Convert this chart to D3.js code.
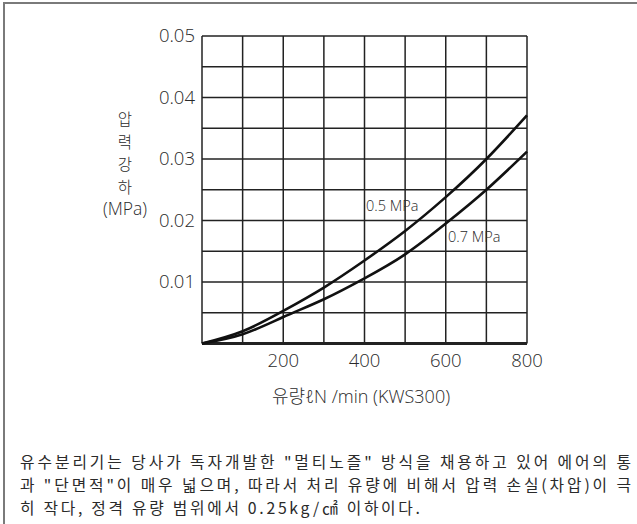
<!DOCTYPE html>
<html>
<head>
<meta charset="utf-8">
<script src="https://cdn.jsdelivr.net/npm/d3@7"></script>
<style>
    body { margin: 0; background: #fff; }
    svg text { font-family: "Open Sans", "Noto Sans", "Noto Sans CJK KR", sans-serif; font-weight: 300; fill: #2a2a2a; }
</style>
</head>
<body>
<svg id="chart" width="637" height="524"></svg>
<script>
// flow (l/min) and pressure drop (MPa)
var flow = [0, 100, 200, 300, 400, 500, 600, 700, 800];
var drop05 = [0, 0.0020, 0.0053, 0.0091, 0.0135, 0.0183, 0.0238, 0.0300, 0.0371];
var drop07 = [0, 0.0015, 0.0043, 0.0072, 0.0106, 0.0145, 0.0195, 0.0250, 0.0312];
var seriesNames = ["0.5 MPa", "0.7 MPa"];
var xTickLabels = [200, 400, 600, 800];
var yTickLabels = [0.01, 0.02, 0.03, 0.04, 0.05];
var yLabelChars = ["압", "력", "강", "하"];
var noteLines = [
    "유수분리기는 당사가 독자개발한 \"멀티노즐\" 방식을 채용하고 있어 에어의 통",
    "과 \"단면적\"이 매우 넓으며, 따라서 처리 유량에 비해서 압력 손실(차압)이 극",
    "히 작다, 정격 유량 범위에서 0.25kg/㎠ 이하이다."
];

var svg = d3.select("svg#chart");

// frame of the whole panel (only top and left edges are visible)
svg.append("rect")
    .attr("x", 4)
    .attr("y", 3)
    .attr("width", 700)
    .attr("height", 600)
    .attr("fill", "none")
    .attr("stroke", "#7a7a7a")
    .attr("stroke-width", 2);

var x = d3.scaleLinear().domain([0, 800]).range([202, 527]);
var y = d3.scaleLinear().domain([0, 0.05]).range([343.5, 36]);

var grid = svg.append("g").attr("class", "grid");

grid.selectAll("line.v")
    .data(d3.range(0, 801, 100))
    .enter()
    .append("line")
    .attr("class", "v")
    .attr("x1", d => x(d))
    .attr("x2", d => x(d))
    .attr("y1", y(0))
    .attr("y2", y(0.05))
    .attr("stroke", "#222")
    .attr("stroke-width", 1.5);

grid.selectAll("line.h")
    .data(d3.range(0, 11).map(i => i * 0.005))
    .enter()
    .append("line")
    .attr("class", "h")
    .attr("x1", x(0))
    .attr("x2", x(800))
    .attr("y1", d => y(d))
    .attr("y2", d => y(d))
    .attr("stroke", "#222")
    .attr("stroke-width", d => (d === 0 ? 3 : 1.5));

// tick labels
svg.append("g")
    .selectAll("text")
    .data(yTickLabels)
    .enter()
    .append("text")
    .attr("x", x(0) - 7)
    .attr("y", d => y(d))
    .attr("dy", "0.35em")
    .attr("text-anchor", "end")
    .style("font-size", "18.5px")
    .text(d => d3.format(".2f")(d));

svg.append("g")
    .selectAll("text")
    .data(xTickLabels)
    .enter()
    .append("text")
    .attr("x", d => x(d))
    .attr("y", 367)
    .attr("text-anchor", "middle")
    .style("font-size", "18.5px")
    .text(d => d);

// y axis title, stacked characters
var ytitle = svg.append("g").attr("class", "ytitle");
ytitle.selectAll("text")
    .data(yLabelChars)
    .enter()
    .append("text")
    .attr("x", 125)
    .attr("y", (d, i) => 125 + i * 22.5)
    .attr("text-anchor", "middle")
    .style("font-family", "'Noto Sans CJK KR'")
    .style("font-size", "15.5px")
    .text(d => d);
ytitle.append("text")
    .attr("x", 125)
    .attr("y", 215)
    .attr("text-anchor", "middle")
    .style("font-size", "17.5px")
    .text("(MPa)");

// x axis title
svg.append("text")
    .attr("x", 361)
    .attr("y", 403)
    .attr("text-anchor", "middle")
    .style("font-size", "18px")
    .text("유량ℓN  /min (KWS300)");

// curves
var line = d3.line()
    .x(d => x(d[0]))
    .y(d => y(d[1]))
    .curve(d3.curveNatural);

[drop05, drop07].forEach(function(vals) {
    svg.append("path")
        .datum(flow.map((f, i) => [f, vals[i]]))
        .attr("d", line)
        .attr("fill", "none")
        .attr("stroke", "#111")
        .attr("stroke-width", 2.6);
});

// series labels
svg.append("text")
    .attr("x", 366)
    .attr("y", 211)
    .style("font-size", "14.5px")
    .text(seriesNames[0]);
svg.append("text")
    .attr("x", 448)
    .attr("y", 242)
    .style("font-size", "14.5px")
    .text(seriesNames[1]);

// note below the chart
var noteWidths = [611, 611, 400];
svg.append("g")
    .selectAll("text")
    .data(noteLines)
    .enter()
    .append("text")
    .attr("x", 20)
    .attr("y", (d, i) => 468 + i * 23)
    .attr("textLength", (d, i) => noteWidths[i])
    .attr("lengthAdjust", "spacing")
    .style("font-family", "'Noto Sans CJK KR'")
    .style("font-weight", 400)
    .style("font-size", "15.8px")
    .text(d => d);
</script>
</body>
</html>
